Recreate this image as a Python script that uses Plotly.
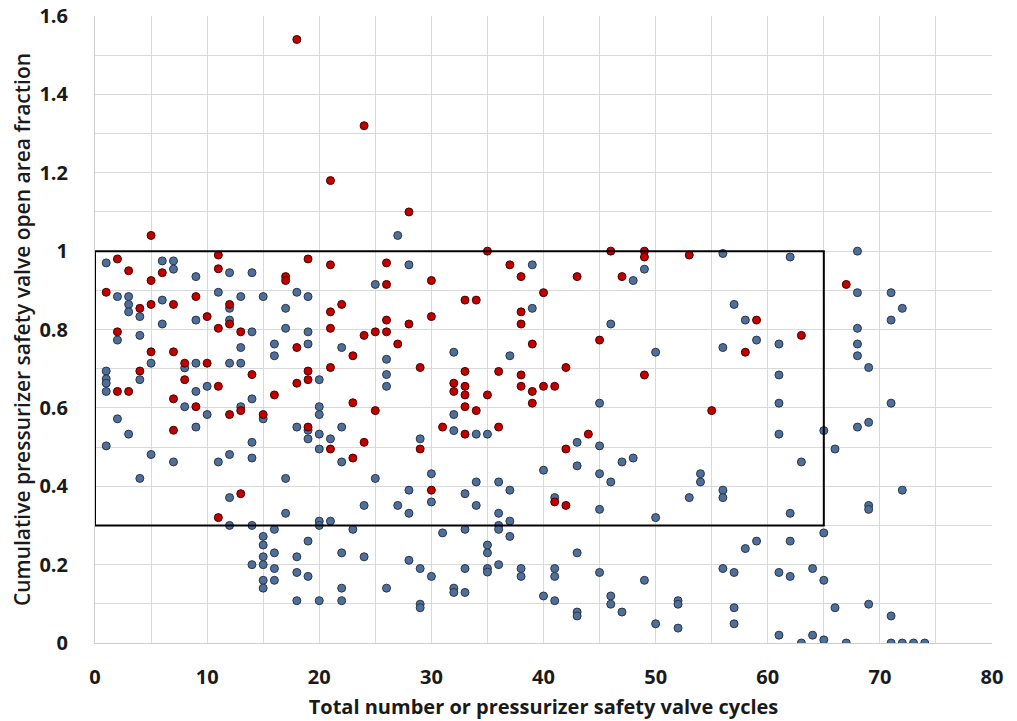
import plotly.graph_objects as go

# ---- data: blue (other) points ----
blue_x = [27,
          1, 6, 7, 7, 12, 14, 9, 25,
          2, 3, 3, 3, 4, 6, 6, 9, 11, 12, 12, 13, 14, 15, 17, 18, 19, 17, 19, 19, 22, 26,
          2, 4, 5, 8, 9, 12, 13, 13, 16, 16,
          1, 1, 1, 1, 4, 9, 10, 20, 26, 26,
          8, 14, 13, 15, 10, 20, 20, 2, 3, 9,
          1, 14, 18, 19, 19, 20, 21, 20, 22,
          5, 7, 4, 11, 12, 14, 22, 17, 25,
          12, 24, 27, 17, 20, 21, 12, 14, 20, 16, 23,
          15, 19, 15, 15, 16, 18, 22, 24, 14, 15, 16, 18, 19, 15, 16, 15, 22, 26, 18, 20, 22,
          28, 39, 48, 49, 39, 46, 32, 37, 50, 45, 32, 32, 34, 35, 29, 43, 45,
          30, 28, 30, 28, 33, 34, 34, 36, 37, 36, 40, 43, 45, 47, 48, 46, 41, 45, 50, 53, 54, 54,
          31, 33, 36, 36, 37, 37, 35, 35, 43, 28, 29, 30, 33, 35, 35, 36, 38, 38, 41, 41, 45, 49,
          32, 32, 33, 40, 41, 46, 46, 47, 29, 29, 43, 43, 50, 52, 52, 52,
          56, 62, 68, 68, 71, 72, 71, 57, 58, 68, 56, 59, 61, 68, 68, 69, 61, 61, 71, 61, 65, 68, 69, 66,
          63, 56, 56, 72, 69, 69, 62, 65, 58, 59, 62, 56, 57, 61, 62, 64, 65, 57, 57, 66, 69, 71,
          61, 64, 63, 65, 67, 71, 72, 73, 74]
blue_y = [1.04,
          0.97, 0.975, 0.975, 0.954, 0.945, 0.945, 0.935, 0.915,
          0.884, 0.884, 0.864, 0.845, 0.833, 0.875, 0.814, 0.824, 0.895, 0.854, 0.824, 0.884, 0.794, 0.884, 0.854, 0.895, 0.884, 0.803, 0.794, 0.763, 0.754, 0.724,
          0.773, 0.785, 0.714, 0.702, 0.714, 0.714, 0.714, 0.754, 0.763, 0.733,
          0.694, 0.674, 0.663, 0.642, 0.672, 0.642, 0.655, 0.672, 0.685, 0.655,
          0.603, 0.623, 0.603, 0.572, 0.583, 0.603, 0.583, 0.572, 0.533, 0.551,
          0.503, 0.512, 0.551, 0.543, 0.521, 0.533, 0.521, 0.495, 0.551,
          0.481, 0.462, 0.42, 0.462, 0.481, 0.472, 0.462, 0.42, 0.42,
          0.371, 0.351, 0.351, 0.331, 0.311, 0.311, 0.30, 0.30, 0.30, 0.29, 0.29,
          0.272, 0.26, 0.25, 0.22, 0.23, 0.22, 0.23, 0.22, 0.20, 0.20, 0.19, 0.18, 0.17, 0.16, 0.16, 0.14, 0.14, 0.14, 0.108, 0.108, 0.108,
          0.965, 0.965, 0.925, 0.954, 0.854, 0.814, 0.742, 0.733, 0.742, 0.612, 0.583, 0.542, 0.533, 0.533, 0.521, 0.512, 0.503,
          0.432, 0.39, 0.36, 0.331, 0.381, 0.411, 0.351, 0.411, 0.39, 0.331, 0.441, 0.452, 0.432, 0.462, 0.472, 0.411, 0.371, 0.341, 0.32, 0.371, 0.432, 0.411,
          0.281, 0.29, 0.30, 0.29, 0.311, 0.272, 0.25, 0.23, 0.23, 0.211, 0.19, 0.17, 0.19, 0.19, 0.181, 0.20, 0.19, 0.17, 0.19, 0.17, 0.18, 0.16,
          0.14, 0.129, 0.129, 0.12, 0.108, 0.12, 0.099, 0.079, 0.099, 0.09, 0.079, 0.069, 0.049, 0.108, 0.099, 0.038,
          0.994, 0.985, 1.0, 0.894, 0.894, 0.854, 0.824, 0.864, 0.824, 0.803, 0.754, 0.773, 0.763, 0.763, 0.733, 0.703, 0.684, 0.612, 0.612, 0.533, 0.542, 0.551, 0.563, 0.495,
          0.462, 0.39, 0.371, 0.39, 0.351, 0.341, 0.331, 0.281, 0.241, 0.26, 0.26, 0.19, 0.18, 0.18, 0.17, 0.19, 0.16, 0.09, 0.049, 0.09, 0.099, 0.069,
          0.02, 0.02, 0.0, 0.008, 0.0, 0.0, 0.0, 0.0, 0.0]

# ---- data: red (highlighted) points ----
red_x = [18, 24, 21, 28, 5, 35, 46, 49, 49, 53, 2, 11, 19, 26,
         3, 6, 5, 11, 17, 17, 21, 26, 1, 4, 5, 7, 9, 10, 12, 12, 11, 13, 18, 21, 22, 21, 26, 24, 25, 26, 27, 23,
         2, 5, 7, 8, 10, 2, 3, 4, 8, 11, 14, 19, 19, 18, 21, 7, 9, 16, 13, 15, 12, 23, 25, 7, 19, 21, 24, 23, 13, 11,
         37, 30, 38, 43, 47, 40, 33, 34, 38, 30, 38, 28, 39, 45, 29, 33, 36, 38, 42, 49, 32, 32, 33, 33, 35, 38,
         39, 40, 41, 39, 33, 34, 31, 36, 33, 44, 29, 42,
         30, 41, 42,
         67, 59, 63, 58, 55]
red_y = [1.54, 1.32, 1.18, 1.10, 1.04, 1.00, 1.00, 1.00, 0.985, 0.99, 0.98, 0.99, 0.98, 0.97,
         0.95, 0.945, 0.925, 0.955, 0.935, 0.925, 0.965, 0.915, 0.895, 0.854, 0.864, 0.864, 0.884, 0.833, 0.864, 0.814, 0.803, 0.794, 0.754, 0.845, 0.864, 0.803, 0.824, 0.785, 0.794, 0.794, 0.763, 0.733,
         0.794, 0.743, 0.743, 0.714, 0.714, 0.642, 0.642, 0.694, 0.672, 0.655, 0.685, 0.694, 0.672, 0.663, 0.703, 0.623, 0.603, 0.633, 0.593, 0.583, 0.583, 0.613, 0.593, 0.543, 0.551, 0.495, 0.512, 0.472, 0.381, 0.32,
         0.965, 0.925, 0.935, 0.935, 0.935, 0.894, 0.875, 0.875, 0.845, 0.833, 0.814, 0.814, 0.763, 0.773, 0.703, 0.693, 0.693, 0.684, 0.703, 0.684, 0.663, 0.642, 0.655, 0.633, 0.633, 0.655,
         0.642, 0.655, 0.655, 0.612, 0.603, 0.593, 0.551, 0.551, 0.533, 0.533, 0.495, 0.495,
         0.39, 0.36, 0.351,
         0.915, 0.824, 0.785, 0.742, 0.593]

# highlighted region (x range, y range)
box_x = [0, 65]
box_y = [0.3, 1.0]

x_ticks = [0, 10, 20, 30, 40, 50, 60, 70, 80]
y_ticks = [0, 0.2, 0.4, 0.6, 0.8, 1.0, 1.2, 1.4, 1.6]
y_tick_text = ["0", "0.2", "0.4", "0.6", "0.8", "1", "1.2", "1.4", "1.6"]

x_title = "Total number or pressurizer safety valve cycles"
y_title = "Cumulative pressurizer safety valve open area fraction"

FONT = "Open Sans"
GRID = "#d9d9d9"
TXT = "#1a1a1a"

fig = go.Figure()
fig.add_trace(go.Scatter(
    x=blue_x, y=blue_y, mode="markers",
    marker=dict(size=8, color="#4f6f99", line=dict(width=1, color="#27364d")),
    hoverinfo="x+y", showlegend=False))
fig.add_trace(go.Scatter(
    x=red_x, y=red_y, mode="markers",
    marker=dict(size=8, color="#c00000", line=dict(width=1, color="#4a0000")),
    hoverinfo="x+y", showlegend=False))

fig.add_shape(type="rect", xref="x", yref="y",
              x0=box_x[0], x1=box_x[1], y0=box_y[0], y1=box_y[1],
              line=dict(color="black", width=2), fillcolor="rgba(0,0,0,0)")

fig.update_layout(
    width=1017, height=721,
    margin=dict(l=95, r=25, t=16, b=78),
    paper_bgcolor="white", plot_bgcolor="white",
    font=dict(family=FONT, color=TXT),
    xaxis=dict(
        range=[0, 80], tickvals=x_ticks, ticktext=[str(v) for v in x_ticks],
        showgrid=True, gridcolor=GRID, gridwidth=1,
        minor=dict(dtick=5, showgrid=True, gridcolor=GRID, gridwidth=1),
        zeroline=False, showline=True, linecolor="#cfcfcf", linewidth=1,
        ticks="", ticklabelstandoff=16,
        tickfont=dict(family=FONT, size=20, weight="bold", color=TXT),
        title=dict(text=x_title, standoff=10,
                   font=dict(family=FONT, size=20, weight="bold", color=TXT)),
        automargin=False,
    ),
    yaxis=dict(
        range=[0, 1.6], tickvals=y_ticks, ticktext=y_tick_text,
        showgrid=True, gridcolor=GRID, gridwidth=1,
        minor=dict(dtick=0.1, showgrid=True, gridcolor=GRID, gridwidth=1),
        zeroline=False, showline=True, linecolor="#cfcfcf", linewidth=1,
        ticks="", ticklabelstandoff=22,
        tickfont=dict(family=FONT, size=20, weight="bold", color=TXT),
        title=dict(text=y_title, standoff=3,
                   font=dict(family=FONT, size=21, weight=600, color=TXT)),
        automargin=False,
    ),
)

fig.write_html("out.html")
